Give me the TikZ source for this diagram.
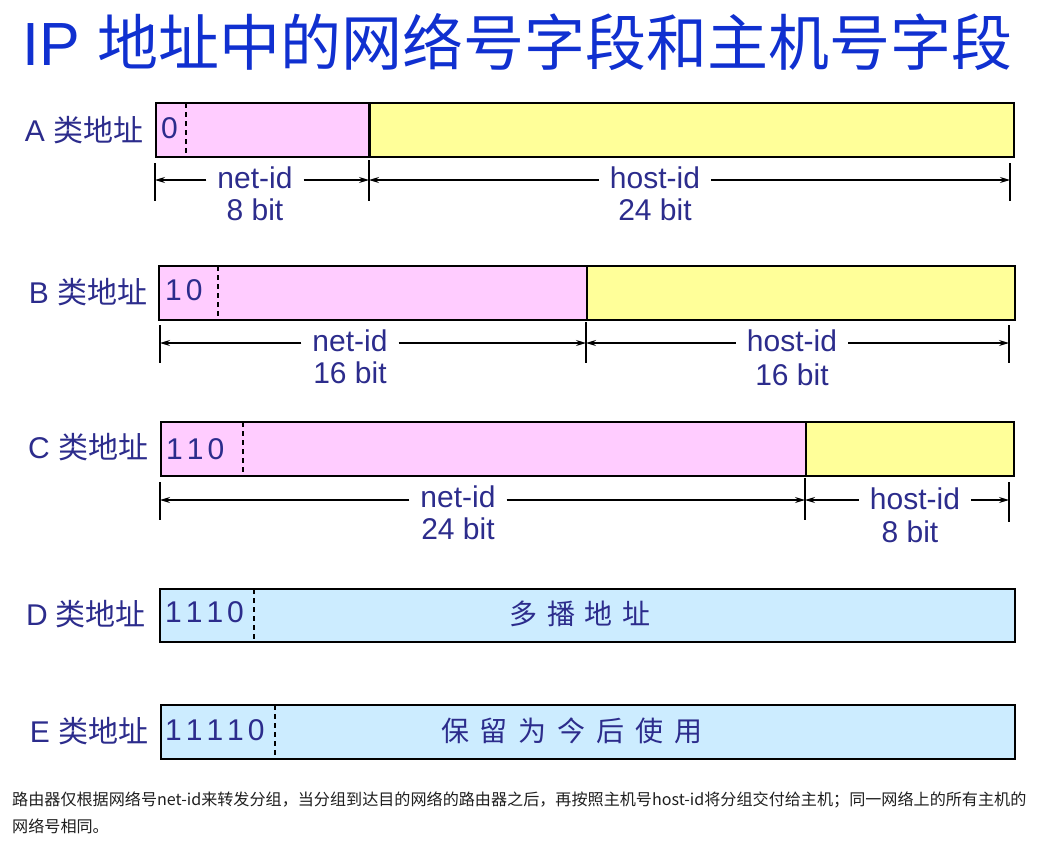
\documentclass[tikz,border=0pt]{standalone}
\usepackage{fontspec}
\setmainfont{Liberation Sans}
\newfontfamily\cjk{Noto Sans CJK SC}
\usetikzlibrary{arrows.meta}
\definecolor{titleblue}{RGB}{16,48,208}
\definecolor{labblue}{RGB}{44,44,140}
\definecolor{pinkf}{RGB}{255,204,255}
\definecolor{yellowf}{RGB}{255,255,153}
\definecolor{bluef}{RGB}{204,236,255}
\definecolor{notegray}{RGB}{30,30,30}
\tikzset{
  segbox/.style={draw=black, line width=2pt, inner sep=0pt, anchor=north west, minimum height=54pt},
  divider/.style={line width=1.5pt, dash pattern=on 5pt off 4pt},
  splitline/.style={line width=3pt},
  tickline/.style={line width=1.4pt},
  dimarrow/.style={line width=1.1pt, -{Stealth[length=10pt,width=6pt]}},
  rowlabel/.style={text=labblue, font=\fontsize{30}{32}\selectfont, inner sep=0pt},
  dimlabel/.style={text=labblue, font=\fontsize{30}{32}\selectfont, inner xsep=11pt, inner ysep=0pt},
  bitlabel/.style={text=labblue, font=\fontsize{30}{32}\selectfont, inner sep=0pt},
  bitprefix/.style={text=labblue, font=\fontsize{30}{32}\selectfont, inner sep=0pt, anchor=west},
  boxtext/.style={text=labblue, font=\cjk\fontsize{28}{30}\selectfont, inner sep=0pt},
  notetext/.style={text=notegray, font=\cjk\fontsize{16.1}{26}\selectfont, inner sep=0pt, anchor=west}
}
\begin{document}
\begin{tikzpicture}[x=1pt,y=-1pt]
\useasboundingbox (0,0) rectangle (1037,847);

% Title
\node[anchor=base west, inner sep=0pt, text=titleblue, font=\fontsize{61}{63}\selectfont] (title) at (22,65) {IP\hspace{18pt}{\cjk 地址中的网络号字段和主机号字段}};

% ---------- A ----------
\node[rowlabel] (labA) at (84,130) {A {\cjk 类地址}};
\node[segbox, fill=pinkf, minimum width=214pt] (Anet) at (155,102) {};
\node[segbox, fill=yellowf, minimum width=644pt] (Ahost) at (369,102) {};
\draw[splitline] (Ahost.north west) -- (Ahost.south west);
\draw[divider] (186,103) -- (186,155);
\node[bitprefix] (pA) at (161,128) {0};
\coordinate (Aa) at (155,180);
\coordinate (Ab) at (369,180);
\coordinate (Ac) at (1010,180);
\draw[tickline] ([yshift=17pt]Aa) -- ([yshift=-21pt]Aa);
\draw[tickline] ([yshift=20pt]Ab) -- ([yshift=-21pt]Ab);
\draw[tickline] ([yshift=17pt]Ac) -- ([yshift=-21pt]Ac);
\node[dimlabel] (netA) at (255,178) {net-id};
\node[bitlabel] (bitnetA) at (255,210) {8 bit};
\node[dimlabel] (hostA) at (655,178) {host-id};
\node[bitlabel] (bithostA) at (655,210) {24 bit};
\draw[dimarrow] (netA.west |- Aa) -- (Aa);
\draw[dimarrow] (netA.east |- Aa) -- (Ab);
\draw[dimarrow] (hostA.west |- Aa) -- (Ab);
\draw[dimarrow] (hostA.east |- Aa) -- (Ac);

% ---------- B ----------
\node[rowlabel] (labB) at (88,292) {B {\cjk 类地址}};
\node[segbox, fill=pinkf, minimum width=428pt] (Bnet) at (158,265) {};
\node[segbox, fill=yellowf, minimum width=428pt] (Bhost) at (586,265) {};
\draw[divider] (218,266) -- (218,318);
\node[bitprefix] (pB) at (165,290) {1\hspace{4pt}0};
\coordinate (Ba) at (160,343);
\coordinate (Bb) at (586,343);
\coordinate (Bc) at (1009,343);
\draw[tickline] ([yshift=18pt]Ba) -- ([yshift=-20pt]Ba);
\draw[tickline] ([yshift=21pt]Bb) -- ([yshift=-20pt]Bb);
\draw[tickline] ([yshift=18pt]Bc) -- ([yshift=-20pt]Bc);
\node[dimlabel] (netB) at (350,341) {net-id};
\node[bitlabel] (bitnetB) at (350,373) {16 bit};
\node[dimlabel] (hostB) at (792,341) {host-id};
\node[bitlabel] (bithostB) at (792,375) {16 bit};
\draw[dimarrow] (netB.west |- Ba) -- (Ba);
\draw[dimarrow] (netB.east |- Ba) -- (Bb);
\draw[dimarrow] (hostB.west |- Ba) -- (Bb);
\draw[dimarrow] (hostB.east |- Ba) -- (Bc);

% ---------- C ----------
\node[rowlabel] (labC) at (88,447) {C {\cjk 类地址}};
\node[segbox, fill=pinkf, minimum width=645pt] (Cnet) at (160,421) {};
\node[segbox, fill=yellowf, minimum width=208pt] (Chost) at (805,421) {};
\draw[divider] (243,422) -- (243,474);
\node[bitprefix] (pC) at (166,449) {1\hspace{4pt}1\hspace{4pt}0};
\coordinate (Ca) at (160,500);
\coordinate (Cb) at (805,500);
\coordinate (Cc) at (1009,500);
\draw[tickline] ([yshift=18pt]Ca) -- ([yshift=-20pt]Ca);
\draw[tickline] ([yshift=22pt]Cb) -- ([yshift=-20pt]Cb);
\draw[tickline] ([yshift=18pt]Cc) -- ([yshift=-22pt]Cc);
\node[dimlabel] (netC) at (458,497) {net-id};
\node[bitlabel] (bitnetC) at (458,529) {24 bit};
\node[dimlabel] (hostC) at (915,499) {host-id};
\node[bitlabel] (bithostC) at (910,532) {8 bit};
\draw[dimarrow] (netC.west |- Ca) -- (Ca);
\draw[dimarrow] (netC.east |- Ca) -- (Cb);
\draw[dimarrow] (hostC.west |- Ca) -- (Cb);
\draw[dimarrow] (hostC.east |- Ca) -- (Cc);

% ---------- D ----------
\node[rowlabel] (labD) at (86,614) {D {\cjk 类地址}};
\node[segbox, fill=bluef, minimum width=855pt, minimum height=53pt] (Dbox) at (159,588) {};
\draw[divider] (254,589) -- (254,640);
\node[bitprefix] (pD) at (165,612) {1\hspace{4pt}1\hspace{4pt}1\hspace{4pt}0};
\node[boxtext] (Dtext) at (580,614) {多\hspace{10pt}播\hspace{10pt}地\hspace{10pt}址};

% ---------- E ----------
\node[rowlabel] (labE) at (89,731) {E {\cjk 类地址}};
\node[segbox, fill=bluef, minimum width=854pt] (Ebox) at (160,704) {};
\draw[divider] (275,705) -- (275,757);
\node[bitprefix] (pE) at (165,730) {1\hspace{4pt}1\hspace{4pt}1\hspace{4pt}1\hspace{4pt}0};
\node[boxtext] (Etext) at (572,731) {保\hspace{11pt}留\hspace{11pt}为\hspace{11pt}今\hspace{11pt}后\hspace{11pt}使\hspace{11pt}用};

% ---------- note ----------
\node[notetext] (note1) at (12,800) {路由器仅根据网络号net-id来转发分组，当分组到达目的网络的路由器之后，再按照主机号host-id将分组交付给主机；同一网络上的所有主机的};
\node[notetext] (note2) at (12,826) {网络号相同。};
\end{tikzpicture}
\end{document}
